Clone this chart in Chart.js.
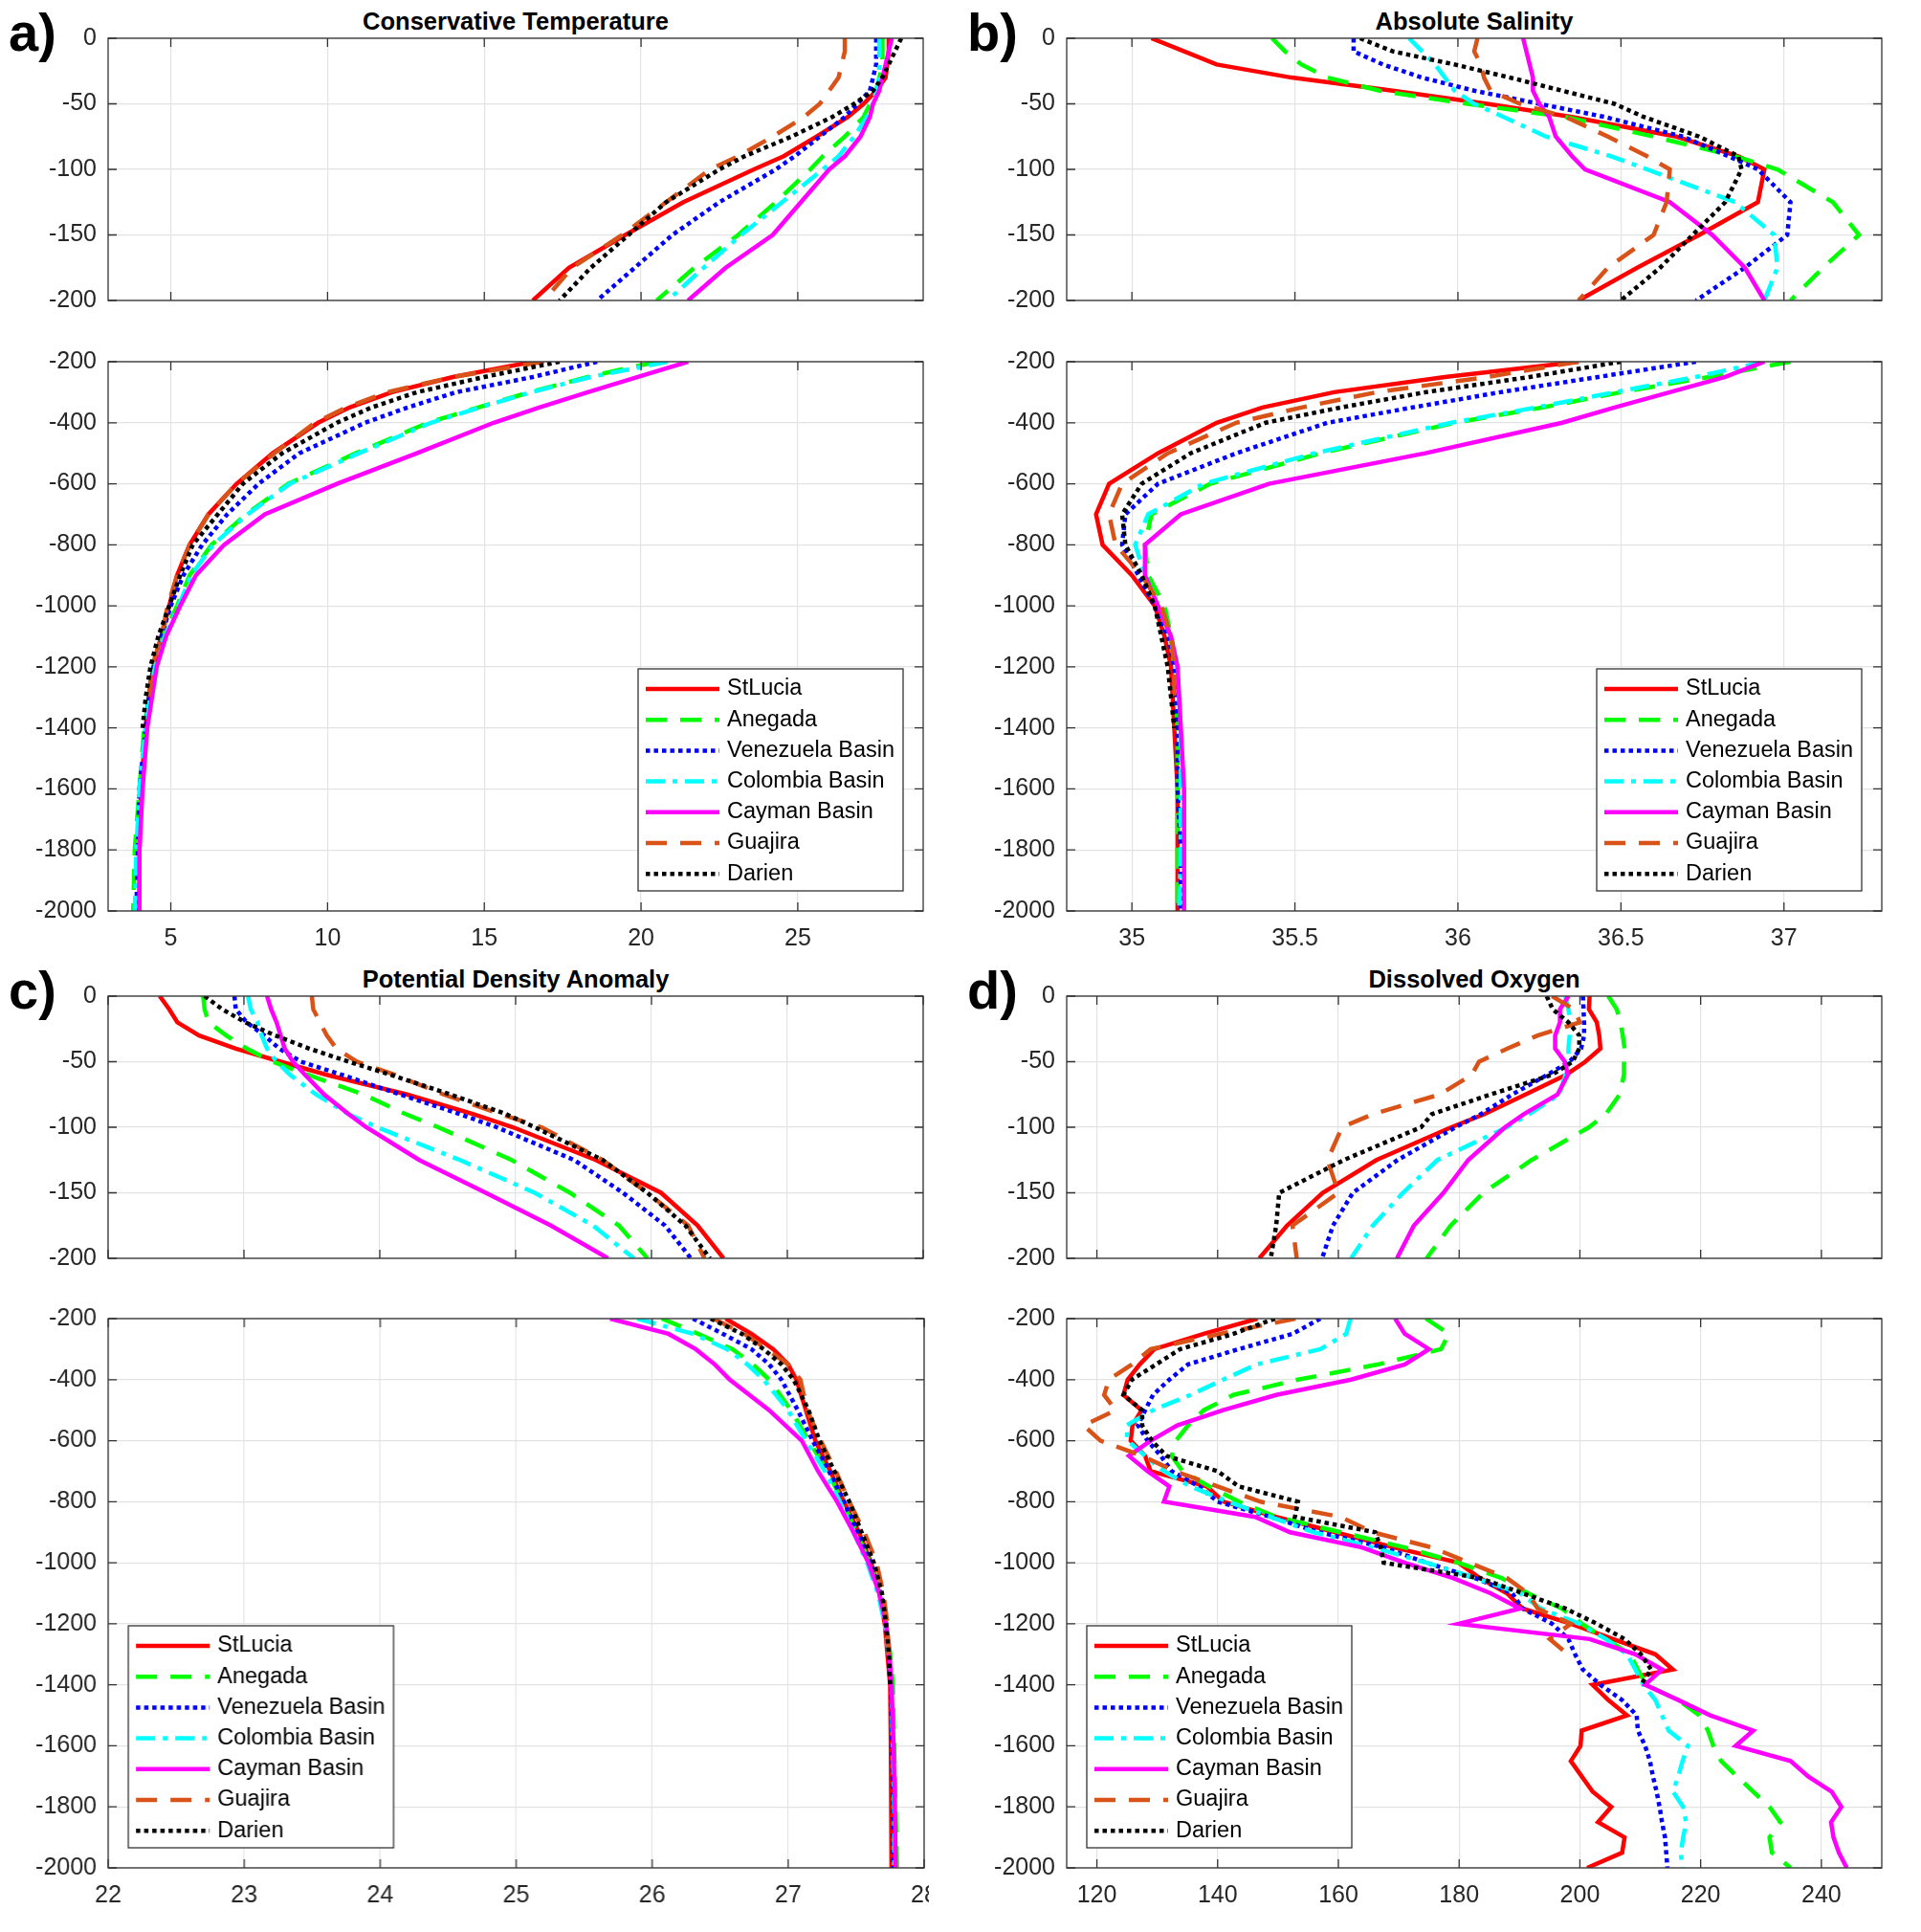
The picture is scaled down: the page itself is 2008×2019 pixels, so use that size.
<!DOCTYPE html>
<html>
<head>
<meta charset="utf-8">
<title>Caribbean profiles</title>
<script src="https://cdn.jsdelivr.net/npm/chart.js@4.4.1/dist/chart.umd.min.js"></script>
<style>
  body { margin: 0; background: #fff; width: 2008px; height: 2019px; position: relative; overflow: hidden; }
  .clip { position: absolute; overflow: hidden; }
  .plot { position: relative; }
  .tag { position: absolute; font: bold 56px "Liberation Sans", Arial, sans-serif; line-height: 1; color: #000; }
  .title { position: absolute; font: bold 25.5px "Liberation Sans", Arial, sans-serif; line-height: 1; text-align: center; color: #000; }
</style>
</head>
<body>
<script>
const stations = ['StLucia', 'Anegada', 'Venezuela Basin', 'Colombia Basin', 'Cayman Basin', 'Guajira', 'Darien'];
const lineColors = ['#ff0000', '#00ff00', '#0000ff', '#00ffff', '#ff00ff', '#d95319', '#000000'];
const lineDashes = [[], [22, 14], [4.5, 4], [20, 8, 5, 8], [], [22, 14], [4.5, 4]];

// depth levels (m)
const upperDepths = [0, -10, -20, -30, -40, -50, -60, -75, -90, -100, -125, -150, -175, -200];
const deepDepths = [-200, -250, -300, -350, -400, -500, -600, -700, -800, -900, -1000, -1100, -1200, -1300, -1400, -1600, -1800, -2000];
const oxygenDeepDepths = [-200, -250, -300, -350, -400, -450, -500, -550, -600, -650, -700, -750, -800, -850, -900, -950,
  -1000, -1050, -1100, -1150, -1200, -1250, -1300, -1350, -1400, -1450, -1500, -1550, -1600, -1650, -1700, -1750,
  -1800, -1850, -1900, -1950, -2000];

// tick labels
const upperDepthTicks = [-200, -150, -100, -50, 0];
const deepDepthTicks = [-2000, -1800, -1600, -1400, -1200, -1000, -800, -600, -400, -200];
const tempTicks = [5, 10, 15, 20, 25];
const salTicks = [35, 35.5, 36, 36.5, 37];
const densTicks = [22, 23, 24, 25, 26, 27, 28];
const oxyTicks = [120, 140, 160, 180, 200, 220, 240];

// rows follow the order of stations
const tempUpper = [
  [27.9, 27.9, 27.85, 27.8, 27.5, 27.1, 26.6, 25.6, 24.55, 23.6, 21.35, 19.5, 17.7, 16.55],
  [27.7, 27.7, 27.7, 27.6, 27.5, 27.3, 27.1, 26.5, 25.8, 25.4, 24.3, 23.1, 21.7, 20.5],
  [27.5, 27.5, 27.5, 27.4, 27.3, 26.9, 26.5, 25.7, 24.9, 24.3, 22.5, 21.0, 19.8, 18.6],
  [27.6, 27.6, 27.6, 27.6, 27.5, 27.4, 27.2, 26.8, 26.3, 25.8, 24.5, 23.2, 22.0, 20.85],
  [28.0, 27.9, 27.8, 27.7, 27.6, 27.4, 27.3, 27.0, 26.5, 26.0, 25.1, 24.2, 22.7, 21.5],
  [26.5, 26.5, 26.4, 26.3, 26.0, 25.7, 25.2, 24.2, 23.1, 22.2, 20.8, 19.4, 17.8, 16.9],
  [28.3, 28.1, 27.9, 27.7, 27.4, 26.8, 26.1, 24.8, 23.3, 22.5, 20.8, 19.6, 18.4, 17.4]
];
const tempDeep = [
  [16.55, 14.0, 12.05, 10.7, 9.7, 8.25, 7.1, 6.2, 5.6, 5.2, 4.95, 4.7, 4.45, 4.3, 4.2, 4.05, 4.0, 4.0],
  [20.5, 18.3, 16.45, 14.8, 13.2, 10.9, 8.75, 7.4, 6.3, 5.6, 5.2, 4.75, 4.45, 4.3, 4.15, 4.0, 3.85, 3.8],
  [18.6, 16.55, 14.1, 12.55, 11.2, 9.1, 7.8, 6.8, 6.0, 5.4, 5.0, 4.7, 4.45, 4.3, 4.2, 4.0, 3.95, 3.9],
  [20.85, 18.4, 16.5, 14.85, 13.3, 11.0, 8.8, 7.45, 6.35, 5.65, 5.25, 4.8, 4.5, 4.3, 4.2, 4.0, 3.9, 3.85],
  [21.5, 19.9, 18.3, 16.75, 15.3, 12.85, 10.3, 8.0, 6.7, 5.8, 5.3, 4.85, 4.55, 4.4, 4.25, 4.1, 4.0, 4.0],
  [16.9, 14.0, 11.9, 10.6, 9.6, 8.3, 7.1, 6.2, 5.6, 5.2, 4.9, 4.7, 4.4, 4.3],
  [17.4, 15.0, 12.85, 11.4, 10.3, 8.55, 7.3, 6.5, 5.7, 5.3, 4.95, 4.6, 4.35, 4.2, 4.1]
];

const salUpper = [
  [35.06, 35.16, 35.26, 35.49, 35.8, 36.09, 36.35, 36.67, 36.86, 36.94, 36.92, 36.74, 36.55, 36.37],
  [35.43, 35.47, 35.52, 35.6, 35.76, 36.03, 36.33, 36.6, 36.85, 36.98, 37.15, 37.23, 37.12, 37.02],
  [35.68, 35.68, 35.77, 35.89, 36.05, 36.25, 36.45, 36.69, 36.83, 36.92, 37.02, 37.01, 36.88, 36.73],
  [35.85, 35.89, 35.93, 35.96, 35.99, 36.05, 36.14, 36.27, 36.47, 36.58, 36.85, 36.97, 36.98, 36.94],
  [36.2, 36.21, 36.22, 36.23, 36.23, 36.25, 36.28, 36.3, 36.35, 36.39, 36.65, 36.78, 36.88, 36.94],
  [36.06, 36.05, 36.07, 36.08, 36.1, 36.19, 36.33, 36.46, 36.58, 36.65, 36.64, 36.6, 36.46, 36.37],
  [35.7, 35.8, 35.99, 36.16, 36.32, 36.48, 36.57, 36.74, 36.86, 36.87, 36.82, 36.72, 36.62, 36.5]
];
const salDeep = [
  [36.37, 35.96, 35.62, 35.4, 35.26, 35.08, 34.93, 34.89, 34.91, 35.0, 35.07, 35.1, 35.12, 35.125, 35.13, 35.14, 35.14, 35.14],
  [37.02, 36.77, 36.5, 36.26, 35.99, 35.58, 35.24, 35.06, 35.04, 35.05, 35.1, 35.12, 35.13, 35.135, 35.14, 35.14, 35.14, 35.14],
  [36.73, 36.43, 36.13, 35.86, 35.6, 35.32, 35.08, 34.98, 34.97, 35.02, 35.07, 35.11, 35.13, 35.135, 35.14, 35.14, 35.15, 35.15],
  [36.94, 36.73, 36.48, 36.24, 35.98, 35.56, 35.22, 35.05, 35.01, 35.04, 35.08, 35.12, 35.14, 35.145, 35.15, 35.15, 35.15, 35.145],
  [36.94, 36.82, 36.65, 36.48, 36.32, 35.9, 35.42, 35.15, 35.04, 35.04, 35.08, 35.12, 35.14, 35.145, 35.15, 35.16, 35.16, 35.16],
  [36.37, 36.09, 35.75, 35.52, 35.32, 35.11, 34.97, 34.93, 34.95, 35.03, 35.09, 35.12, 35.13, 35.13],
  [36.5, 36.22, 35.9, 35.64, 35.41, 35.18, 35.03, 34.97, 34.98, 35.03, 35.07, 35.09, 35.11, 35.12, 35.13]
];

const densUpper = [
  [22.38, 22.45, 22.51, 22.67, 22.94, 23.27, 23.61, 24.2, 24.69, 24.98, 25.59, 26.07, 26.34, 26.53],
  [22.7, 22.71, 22.74, 22.87, 23.02, 23.21, 23.47, 23.88, 24.19, 24.43, 24.97, 25.4, 25.76, 25.97],
  [22.93, 22.94, 23.02, 23.15, 23.26, 23.42, 23.72, 24.15, 24.59, 24.86, 25.43, 25.79, 26.1, 26.29],
  [23.03, 23.05, 23.1, 23.13, 23.17, 23.24, 23.34, 23.53, 23.77, 23.98, 24.59, 25.14, 25.57, 25.87],
  [23.17, 23.2, 23.24, 23.27, 23.3, 23.36, 23.45, 23.59, 23.77, 23.9, 24.29, 24.78, 25.26, 25.68],
  [23.5, 23.51, 23.56, 23.61, 23.68, 23.83, 24.11, 24.47, 24.89, 25.19, 25.64, 25.97, 26.27, 26.39],
  [22.71, 22.84, 23.01, 23.23, 23.48, 23.77, 24.08, 24.52, 24.93, 25.14, 25.64, 25.97, 26.25, 26.43]
];
const densDeep = [
  [26.54, 26.73, 26.89, 27.0, 27.06, 27.13, 27.2, 27.31, 27.41, 27.52, 27.61, 27.67, 27.71, 27.73, 27.75, 27.755, 27.76, 27.76],
  [26.07, 26.34, 26.59, 26.74, 26.86, 27.02, 27.15, 27.29, 27.4, 27.5, 27.6, 27.67, 27.72, 27.75, 27.77, 27.78, 27.79, 27.8],
  [26.3, 26.52, 26.73, 26.86, 26.95, 27.07, 27.18, 27.3, 27.41, 27.51, 27.61, 27.68, 27.72, 27.74, 27.755, 27.765, 27.77, 27.77],
  [25.89, 26.3, 26.55, 26.7, 26.82, 27.0, 27.13, 27.27, 27.38, 27.48, 27.58, 27.66, 27.71, 27.74, 27.76, 27.77, 27.78, 27.78],
  [25.69, 26.12, 26.32, 26.46, 26.57, 26.86, 27.1, 27.22, 27.36, 27.48, 27.59, 27.67, 27.72, 27.745, 27.76, 27.775, 27.785, 27.79],
  [26.45, 26.68, 26.84, 27.0, 27.09, 27.14, 27.24, 27.35, 27.45, 27.56, 27.65, 27.7, 27.73, 27.74],
  [26.43, 26.66, 26.82, 26.95, 27.04, 27.15, 27.23, 27.34, 27.45, 27.54, 27.63, 27.69, 27.72, 27.74, 27.75]
];

const oxyUpper = [
  [201.6, 201.5, 202.8, 203.2, 203.4, 200.9, 197.7, 191.0, 184.2, 178.7, 166.3, 157.4, 151.5, 146.9],
  [204.7, 206.1, 206.7, 207.1, 207.4, 207.3, 207.3, 206.6, 204.3, 201.5, 192.0, 184.0, 178.6, 174.6],
  [200.5, 200.6, 200.7, 200.7, 200.2, 198.3, 194.6, 188.8, 183.6, 179.4, 169.8, 162.4, 159.1, 157.3],
  [197.6, 198.1, 198.5, 198.3, 198.1, 198.1, 197.6, 196.6, 191.6, 187.9, 176.4, 170.7, 165.7, 162.1],
  [198.1, 196.7, 196.7, 195.9, 195.9, 197.5, 198.0, 196.3, 190.7, 187.6, 181.5, 177.4, 172.5, 169.7],
  [195.4, 199.0, 200.0, 193.0, 188.0, 183.3, 182.1, 176.8, 165.7, 160.6, 158.2, 160.0, 152.4, 153.1],
  [194.5, 195.5, 198.1, 199.9, 199.9, 198.8, 195.4, 185.2, 175.5, 173.7, 160.9, 150.2, 149.7, 148.8]
];
const oxyDeep = [
  [146.6, 137.7, 129.5, 127.1, 125.1, 124.4, 127.4, 125.9, 125.6, 128.0, 128.9, 138.2, 141.0, 149.7, 159.5, 169.2,
   179.9, 183.4, 187.9, 190.5, 198.5, 205.5, 212.5, 215.4, 202.1, 204.7, 207.8, 200.3, 200.1, 198.5, 200.3, 202.1,
   205.2, 203.0, 207.4, 207.0, 201.2],
  [174.5, 178.3, 177.0, 166.6, 153.3, 142.6, 137.7, 135.1, 133.1, 132.4, 134.2, 138.6, 143.5, 149.7, 160.4, 171.0,
   179.9, 187.0, 191.4, 197.0, 200.3, 204.3, 208.3, 209.6, 211.0, 216.3, 219.8, 221.2, 222.1, 223.4, 226.0, 228.7,
   231.4, 233.2, 231.4, 231.8, 234.9],
  [157.0, 152.4, 143.5, 135.1, 132.0, 129.3, 128.0, 126.8, 128.4, 130.6, 132.4, 136.9, 140.0, 148.8, 156.8, 167.5,
   174.6, 182.6, 188.8, 190.5, 195.4, 198.1, 199.2, 200.5, 203.4, 207.0, 209.4, 209.6, 210.8, 211.6, 212.1, 212.7,
   213.2, 213.6, 214.1, 214.3, 214.5],
  [162.0, 161.3, 157.0, 146.5, 140.9, 135.5, 129.3, 124.9, 125.1, 128.0, 131.1, 135.5, 141.7, 148.8, 155.9, 165.7,
   174.6, 182.6, 190.1, 193.5, 199.9, 204.3, 207.8, 209.2, 210.5, 212.5, 213.6, 214.7, 217.9, 217.0, 216.3, 215.4,
   217.1, 217.6, 217.1, 216.7, 217.0],
  [169.4, 171.0, 175.0, 171.0, 162.1, 149.7, 140.9, 133.3, 128.9, 125.3, 128.4, 132.0, 131.1, 146.2, 152.0, 163.9,
   171.0, 179.0, 185.2, 190.1, 179.9, 201.6, 209.2, 213.6, 210.8, 216.3, 221.6, 228.7, 225.8, 234.9, 237.8, 241.7,
   243.3, 241.6, 242.0, 242.9, 244.2],
  [152.9, 140.4, 128.9, 125.8, 122.0, 121.2, 123.1, 117.8, 120.6, 127.5, 132.9, 140.0, 147.1, 160.4, 165.7, 175.5,
   181.7, 187.9, 191.4, 193.0, 198.5, 195.0, 198.0],
  [149.5, 142.6, 133.8, 129.8, 125.8, 124.4, 127.5, 127.5, 129.1, 131.5, 140.0, 143.5, 153.3, 152.8, 166.1, 167.0,
   167.5, 183.4, 190.5, 197.6, 202.8, 207.4, 210.1, 211.8, 210.1]
];

const FONT = '"Liberation Sans", Arial, sans-serif';
const X_AXIS_H = 50;

const panels = [
  { tag: 'a)', title: 'Conservative Temperature', left: 113, right: 965, top: 40, upperBottom: 314, deepTop: 378, bottom: 952,
    min: 3, max: 29, ticks: tempTicks, upper: tempUpper, deep: tempDeep, deepLevels: deepDepths, legend: 'br' },
  { tag: 'b)', title: 'Absolute Salinity', left: 1115, right: 1967, top: 40, upperBottom: 314, deepTop: 378, bottom: 952,
    min: 34.8, max: 37.3, ticks: salTicks, upper: salUpper, deep: salDeep, deepLevels: deepDepths, legend: 'br' },
  { tag: 'c)', title: 'Potential Density Anomaly', left: 113, right: 965, top: 1041, upperBottom: 1315, deepTop: 1378, bottom: 1952,
    min: 22, max: 28, ticks: densTicks, upper: densUpper, deep: densDeep, deepLevels: deepDepths, legend: 'bl', clipAt: 971 },
  { tag: 'd)', title: 'Dissolved Oxygen', left: 1115, right: 1967, top: 1041, upperBottom: 1315, deepTop: 1378, bottom: 1952,
    min: 115, max: 250, ticks: oxyTicks, upper: oxyUpper, deep: oxyDeep, deepLevels: oxygenDeepDepths, legend: 'bl' }
];

// box around the axes with inward tick marks, like the original figure
const frameTicks = {
  id: 'frameTicks',
  afterDraw(chart) {
    const { ctx, chartArea: a, scales: { x, y } } = chart;
    const len = 9;
    ctx.save();
    ctx.strokeStyle = '#333333';
    ctx.lineWidth = 1.3;
    ctx.strokeRect(a.left, a.top, a.right - a.left, a.bottom - a.top);
    ctx.beginPath();
    x.ticks.forEach(t => {
      const px = x.getPixelForValue(t.value);
      ctx.moveTo(px, a.bottom); ctx.lineTo(px, a.bottom - len);
      ctx.moveTo(px, a.top); ctx.lineTo(px, a.top + len);
    });
    y.ticks.forEach(t => {
      const py = y.getPixelForValue(t.value);
      ctx.moveTo(a.left, py); ctx.lineTo(a.left + len, py);
      ctx.moveTo(a.right, py); ctx.lineTo(a.right - len, py);
    });
    ctx.stroke();
    ctx.restore();
  }
};

const profileLegend = {
  id: 'profileLegend',
  afterDraw(chart, args, opts) {
    if (!opts || !opts.corner) return;
    const { ctx, chartArea: a } = chart;
    const w = 277, h = 232;
    const left = opts.corner === 'br' ? a.right - 21 - w : a.left + 21;
    const top = a.bottom - 21 - h;
    ctx.save();
    ctx.fillStyle = '#fff';
    ctx.fillRect(left, top, w, h);
    ctx.strokeStyle = '#333333';
    ctx.lineWidth = 1.3;
    ctx.strokeRect(left, top, w, h);
    ctx.font = '23.5px ' + FONT;
    ctx.textBaseline = 'middle';
    chart.data.datasets.forEach((ds, i) => {
      const cy = top + 21 + i * 32.2;
      ctx.beginPath();
      ctx.setLineDash(ds.borderDash);
      ctx.strokeStyle = ds.borderColor;
      ctx.lineWidth = ds.borderWidth;
      ctx.moveTo(left + 8, cy);
      ctx.lineTo(left + 85, cy);
      ctx.stroke();
      ctx.setLineDash([]);
      ctx.fillStyle = '#000';
      ctx.fillText(ds.label, left + 93, cy);
    });
    ctx.restore();
  }
};

function addText(cls, text, css) {
  const el = document.createElement('div');
  el.className = cls;
  el.textContent = text;
  Object.assign(el.style, css);
  document.body.appendChild(el);
}

function makeProfile(p, rows, levels, yMin, yMax, yTicks, isDeep, plotTop, plotBottom) {
  const outer = document.createElement('div');
  outer.className = 'clip';
  const box = document.createElement('div');
  box.className = 'plot';
  // first guess, corrected below once the chart area is known
  let w = p.right - p.left + 150, h = plotBottom - plotTop + (isDeep ? 90 : 50);
  Object.assign(outer.style, { left: (p.left - 120) + 'px', top: (plotTop - 30) + 'px', width: w + 'px', height: h + 'px' });
  Object.assign(box.style, { width: w + 'px', height: h + 'px' });
  const canvas = document.createElement('canvas');
  box.appendChild(canvas);
  outer.appendChild(box);
  document.body.appendChild(outer);

  const datasets = rows.map((vals, i) => ({
    label: stations[i],
    data: vals.map((v, k) => ({ x: v, y: levels[k] })),
    showLine: true,
    borderColor: lineColors[i],
    backgroundColor: lineColors[i],
    borderDash: lineDashes[i],
    borderWidth: 4.5,
    pointRadius: 0,
    fill: false,
    order: rows.length - 1 - i
  }));

  const tickFont = { family: FONT, size: 25 };
  const chart = new Chart(canvas, {
    type: 'scatter',
    data: { datasets },
    plugins: [frameTicks, profileLegend],
    options: {
      responsive: true,
      maintainAspectRatio: false,
      animation: false,
      events: [],
      layout: { padding: { left: 0, top: 4, right: 22, bottom: isDeep ? 0 : 4 } },
      plugins: {
        legend: { display: false },
        tooltip: { enabled: false },
        profileLegend: { corner: isDeep ? p.legend : null }
      },
      scales: {
        x: {
          type: 'linear',
          min: p.min,
          max: p.max,
          afterBuildTicks: ax => { ax.ticks = p.ticks.map(v => ({ value: v })); },
          afterFit: s => { s.height = isDeep ? X_AXIS_H : 0; },
          border: { display: false },
          grid: { color: '#e3e3e3', lineWidth: 1.2, drawTicks: false },
          ticks: { display: isDeep, padding: 14, color: '#262626', font: tickFont, maxRotation: 0, autoSkip: false,
                   callback: v => String(v) }
        },
        y: {
          type: 'linear',
          min: yMin,
          max: yMax,
          afterBuildTicks: ax => { ax.ticks = yTicks.map(v => ({ value: v })); },
          afterFit: s => { s.width = 112; },
          border: { display: false },
          grid: { color: '#e3e3e3', lineWidth: 1.2, drawTicks: false },
          ticks: { padding: 12, color: '#262626', font: tickFont, autoSkip: false, callback: v => String(v) }
        }
      }
    }
  });

  // move/resize the box so the plot area lands on the wanted rectangle
  const a = chart.chartArea;
  const boxLeft = p.left - a.left;
  w = p.right - p.left + a.left + (chart.width - a.right);
  h = plotBottom - plotTop + a.top + (chart.height - a.bottom);
  const visibleW = (isDeep && p.clipAt) ? Math.min(w, p.clipAt - boxLeft) : w;
  Object.assign(outer.style, { left: boxLeft + 'px', top: (plotTop - a.top) + 'px', width: visibleW + 'px', height: h + 'px' });
  Object.assign(box.style, { width: w + 'px', height: h + 'px' });
  chart.resize();
}

panels.forEach(p => {
  addText('tag', p.tag, { left: (p.left - 104) + 'px', top: (p.top - 34) + 'px' });
  addText('title', p.title, { left: p.left + 'px', width: (p.right - p.left) + 'px', top: (p.top - 30) + 'px' });
  makeProfile(p, p.upper, upperDepths, -200, 0, upperDepthTicks, false, p.top, p.upperBottom);
  makeProfile(p, p.deep, p.deepLevels, -2000, -200, deepDepthTicks, true, p.deepTop, p.bottom);
});
</script>
</body>
</html>
